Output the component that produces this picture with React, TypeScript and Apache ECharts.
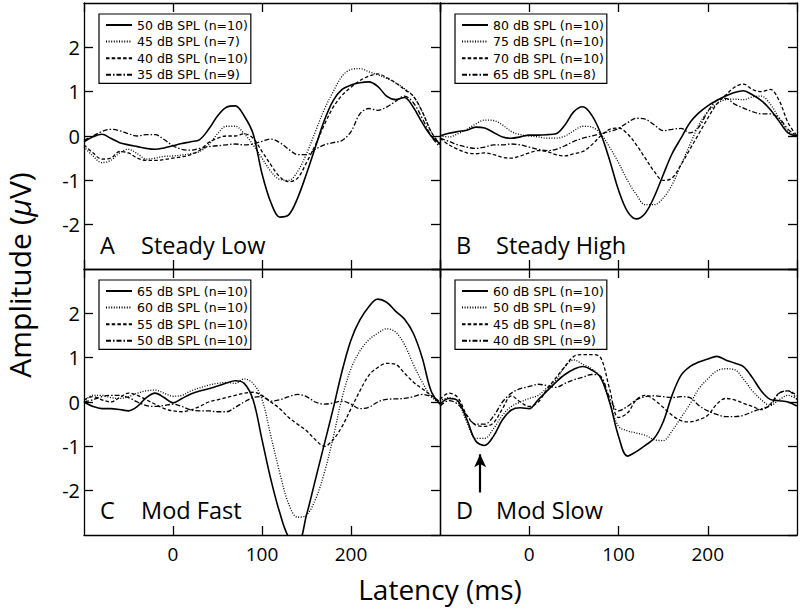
import React, { useEffect, useRef } from 'react';
import * as echarts from 'echarts';

const FONT = '"Open Sans", Lato, "DejaVu Sans", sans-serif';
const LEGEND_FONT = '"DejaVu Sans", "Open Sans", sans-serif';

// Latency sampling (ms)
const latency = [-100, -90, -80, -70, -60, -50, -40, -30, -20, -10, 0, 10, 20, 30, 40, 50, 60, 70, 80, 90, 100,
  110, 120, 130, 140, 150, 160, 170, 180, 190, 200, 210, 220, 230, 240, 250, 260, 270, 280, 290, 300];

// Panel A – Steady Low
const namesA = ['50 dB SPL (n=10)', '45 dB SPL (n=7)', '40 dB SPL (n=10)', '35 dB SPL (n=9)'];
const a50 = [-0.13, -0.02, 0.04, -0.05, -0.15, -0.2, -0.24, -0.28, -0.3, -0.27, -0.22, -0.17, -0.13, -0.08, 0.15, 0.45, 0.65, 0.68, 0.45, 0.05, -0.85,
  -1.5, -1.83, -1.78, -1.4, -0.85, -0.25, 0.35, 0.8, 1.05, 1.15, 1.2, 1.22, 1.12, 0.9, 0.82, 0.87, 0.65, 0.3, 0.0, -0.17];
const a45 = [-0.24, -0.45, -0.6, -0.55, -0.38, -0.3, -0.4, -0.52, -0.5, -0.46, -0.45, -0.43, -0.4, -0.35, -0.2, 0.05, 0.22, 0.22, 0.05, -0.2, -0.5,
  -0.8, -0.98, -1.0, -0.8, -0.4, 0.1, 0.6, 1.0, 1.35, 1.5, 1.52, 1.45, 1.38, 1.3, 1.2, 1.07, 0.9, 0.55, 0.1, -0.18];
const a40 = [-0.2, -0.38, -0.52, -0.5, -0.35, -0.38, -0.5, -0.55, -0.55, -0.53, -0.5, -0.47, -0.42, -0.32, -0.15, -0.05, 0.0, 0.0, 0.05, -0.05, -0.35,
  -0.65, -0.92, -1.03, -0.95, -0.6, -0.2, 0.25, 0.65, 0.92, 1.1, 1.25, 1.35, 1.4, 1.32, 1.2, 1.05, 0.9, 0.55, 0.1, -0.2];
const a35 = [-0.1, 0.0, 0.1, 0.15, 0.12, 0.05, 0.0, 0.03, 0.03, -0.08, -0.22, -0.3, -0.32, -0.28, -0.24, -0.22, -0.2, -0.18, -0.2, -0.18, -0.12,
  -0.07, -0.15, -0.3, -0.42, -0.42, -0.3, -0.2, -0.15, -0.1, 0.1, 0.5, 0.62, 0.58, 0.65, 0.78, 0.9, 0.75, 0.4, 0.0, -0.25];

// Panel B – Steady High
const namesB = ['80 dB SPL (n=10)', '75 dB SPL (n=10)', '70 dB SPL (n=10)', '65 dB SPL (n=8)'];
const b80 = [0.0, 0.06, 0.1, 0.13, 0.2, 0.18, 0.08, -0.02, -0.05, -0.02, 0.02, 0.02, 0.03, 0.05, 0.25, 0.55, 0.66, 0.47, 0.06, -0.54, -1.22,
  -1.7, -1.87, -1.74, -1.37, -0.88, -0.4, -0.05, 0.3, 0.52, 0.68, 0.8, 0.9, 0.98, 1.02, 0.93, 0.8, 0.6, 0.33, 0.07, 0.0];
const b75 = [0.0, -0.02, 0.05, 0.15, 0.27, 0.36, 0.35, 0.25, 0.1, 0.03, 0.0, -0.02, -0.05, -0.05, 0.0, 0.12, 0.22, 0.2, 0.05, -0.25, -0.6,
  -1.0, -1.32, -1.55, -1.55, -1.4, -1.1, -0.65, -0.2, 0.25, 0.55, 0.72, 0.82, 0.83, 0.82, 0.88, 0.9, 0.72, 0.4, 0.1, 0.0];
const b70 = [-0.05, -0.2, -0.3, -0.38, -0.4, -0.38, -0.42, -0.48, -0.5, -0.45, -0.38, -0.33, -0.35, -0.42, -0.45, -0.4, -0.35, -0.2, 0.0, 0.15, 0.18,
  0.05, -0.2, -0.5, -0.8, -1.0, -0.95, -0.65, -0.3, 0.05, 0.4, 0.72, 0.92, 1.1, 1.17, 1.05, 1.0, 1.05, 0.8, 0.3, 0.0];
const b65 = [-0.05, -0.12, -0.2, -0.25, -0.28, -0.25, -0.2, -0.2, -0.18, -0.2, -0.25, -0.3, -0.33, -0.3, -0.22, -0.12, -0.05, 0.0, 0.05, 0.1, 0.17,
  0.3, 0.4, 0.38, 0.25, 0.12, 0.15, 0.17, 0.07, 0.2, 0.55, 0.8, 0.85, 0.72, 0.63, 0.55, 0.5, 0.5, 0.4, 0.15, 0.0];

// Panel C – Mod Fast
const namesC = ['65 dB SPL (n=10)', '60 dB SPL (n=10)', '55 dB SPL (n=10)', '50 dB SPL (n=10)'];
const c65 = [0.0, -0.1, -0.15, -0.15, -0.17, -0.2, -0.1, 0.1, 0.2, 0.1, -0.02, 0.08, 0.18, 0.25, 0.3, 0.36, 0.43, 0.48, 0.42, 0.05, -0.85,
  -1.75, -2.5, -3.05, -3.2, -2.55, -1.75, -0.95, -0.15, 0.7, 1.4, 1.85, 2.15, 2.32, 2.25, 2.05, 1.87, 1.55, 1.0, 0.25, -0.05];
const c60 = [0.0, 0.15, 0.15, 0.1, 0.08, 0.12, 0.2, 0.25, 0.27, 0.2, 0.13, 0.15, 0.25, 0.32, 0.38, 0.42, 0.44, 0.42, 0.52, 0.42, 0.06,
  -0.77, -1.6, -2.3, -2.6, -2.55, -2.2, -1.6, -0.8, 0.1, 0.75, 1.15, 1.4, 1.55, 1.65, 1.58, 1.3, 0.85, 0.45, 0.12, -0.03];
const c55 = [0.05, 0.12, 0.05, 0.0, 0.1, 0.2, 0.15, 0.05, -0.05, -0.15, -0.2, -0.22, -0.18, -0.1, 0.0, 0.05, 0.1, 0.15, 0.2, 0.22, 0.15,
  0.0, -0.15, -0.35, -0.5, -0.65, -0.85, -1.0, -0.85, -0.55, -0.15, 0.25, 0.6, 0.78, 0.87, 0.85, 0.65, 0.45, 0.3, 0.15, 0.0];
const c50 = [0.0, 0.05, 0.12, 0.15, 0.15, 0.1, 0.0, -0.08, -0.1, -0.08, -0.05, -0.1, -0.18, -0.2, -0.2, -0.22, -0.22, -0.12, 0.0, 0.1, 0.12,
  0.02, 0.05, 0.12, 0.17, 0.12, 0.0, -0.05, -0.02, 0.02, -0.05, -0.15, -0.12, 0.0, 0.06, 0.07, 0.08, 0.12, 0.17, 0.12, 0.0];

// Panel D – Mod Slow
const namesD = ['60 dB SPL (n=10)', '50 dB SPL (n=9)', '45 dB SPL (n=8)', '40 dB SPL (n=9)'];
const d60 = [-0.05, 0.08, 0.03, -0.39, -0.88, -0.98, -0.77, -0.4, -0.18, -0.13, -0.15, 0.05, 0.25, 0.45, 0.62, 0.74, 0.8, 0.72, 0.55, 0.0, -0.77,
  -1.22, -1.12, -0.98, -0.82, -0.45, 0.15, 0.6, 0.8, 0.9, 0.97, 1.03, 0.95, 0.88, 0.8, 0.55, 0.25, 0.06, 0.03, 0.0, -0.09];
const d50 = [0.02, 0.1, 0.0, -0.45, -0.82, -0.82, -0.6, -0.3, -0.1, 0.0, 0.08, 0.15, 0.32, 0.5, 0.8, 0.95, 0.85, 0.75, 0.55, 0.0, -0.55,
  -0.65, -0.7, -0.75, -0.85, -0.87, -0.65, -0.35, -0.05, 0.3, 0.52, 0.7, 0.75, 0.73, 0.52, 0.25, 0.05, -0.08, 0.05, 0.15, 0.06];
const d45 = [0.06, 0.2, 0.1, -0.3, -0.52, -0.55, -0.47, -0.15, 0.14, 0.0, -0.1, 0.0, 0.29, 0.55, 0.8, 1.03, 1.07, 1.07, 1.0, 0.3, -0.35,
  -0.25, 0.05, 0.15, 0.05, -0.12, -0.3, -0.42, -0.45, -0.4, -0.3, -0.05, 0.08, 0.05, -0.03, -0.1, -0.17, -0.05, 0.2, 0.25, 0.14];
const d40 = [-0.09, 0.03, -0.05, -0.3, -0.5, -0.5, -0.32, 0.0, 0.2, 0.3, 0.35, 0.4, 0.37, 0.33, 0.42, 0.5, 0.56, 0.62, 0.58, 0.1, -0.2,
  -0.1, 0.05, 0.12, 0.14, 0.12, 0.1, 0.12, 0.1, -0.08, -0.2, -0.28, -0.33, -0.33, -0.3, -0.22, -0.15, -0.08, 0.2, 0.25, 0.06];

const panelLetters = ['A', 'B', 'C', 'D'];
const panelConditions = ['Steady Low', 'Steady High', 'Mod Fast', 'Mod Slow'];
const yTicks = [-2, -1, 0, 1, 2];
const xTicks = [0, 100, 200];

// arrow in panel D (latency, amplitude tip, amplitude tail)
const arrowLatency = -55;
const arrowTip = -1.18;
const arrowTail = -2.04;

const lineStyles = [
  { type: 'solid' as any, width: 1.6 },
  { type: [1, 1.6] as any, width: 1.3 },
  { type: [3.5, 2.2] as any, width: 1.3 },
  { type: [5, 2, 1.5, 2] as any, width: 1.3 },
];

export default function App() {
  const ref = useRef<HTMLDivElement>(null);
  useEffect(() => {
    if (!ref.current) return;
    const chart = echarts.init(ref.current, undefined, { renderer: 'svg' });
    const panels = [
      { names: namesA, data: [a50, a45, a40, a35] },
      { names: namesB, data: [b80, b75, b70, b65] },
      { names: namesC, data: [c65, c60, c55, c50] },
      { names: namesD, data: [d60, d50, d45, d40] },
    ];
    const grids = [
      { left: 84, top: 3, width: 356, height: 266 },
      { left: 440, top: 3, width: 357, height: 266 },
      { left: 84, top: 269, width: 356, height: 266 },
      { left: 440, top: 269, width: 357, height: 266 },
    ];
    const axisLine = { show: true, onZero: false, lineStyle: { color: '#000', width: 1.3 } };
    const tick = (show: boolean) => ({ show, inside: true, length: 9, lineStyle: { color: '#000', width: 1.3 } });
    const xAxis: any[] = [];
    const yAxis: any[] = [];
    const series: any[] = [];
    const legend: any[] = [];
    const graphic: any[] = [];
    panels.forEach((p, i) => {
      const isLeft = i % 2 === 0;
      const isBottom = i >= 2;
      xAxis.push({
        type: 'value', gridIndex: i, min: -100, max: 300, interval: 100, position: 'bottom',
        axisLine, axisTick: tick(true), splitLine: { show: false },
        axisLabel: {
          show: isBottom, showMinLabel: false, showMaxLabel: false, margin: 9,
          fontSize: 19, fontFamily: FONT, color: '#000',
          formatter: (v: number) => (xTicks.includes(v) ? String(v) : ''),
        },
      });
      xAxis.push({
        type: 'value', gridIndex: i, min: -100, max: 300, interval: 100, position: 'top',
        axisLine, axisTick: tick(true), splitLine: { show: false }, axisLabel: { show: false },
      });
      yAxis.push({
        type: 'value', gridIndex: i, min: -3, max: 3, interval: 1, position: 'left',
        axisLine, axisTick: tick(isLeft), splitLine: { show: false },
        axisLabel: {
          show: isLeft, showMinLabel: false, showMaxLabel: false, margin: 4,
          fontSize: 20, fontFamily: FONT, color: '#000',
          formatter: (v: number) => (yTicks.includes(v) ? String(v) : ''),
        },
      });
      yAxis.push({
        type: 'value', gridIndex: i, min: -3, max: 3, interval: 1, position: 'right',
        axisLine, axisTick: tick(true), splitLine: { show: false }, axisLabel: { show: false },
      });
      const prefix = panelLetters[i] + '|';
      p.names.forEach((name, k) => {
        const s: any = {
          type: 'line', name: prefix + name, xAxisIndex: 2 * i, yAxisIndex: 2 * i,
          data: latency.map((x, j) => [x, p.data[k][j]]),
          smooth: 0.35, showSymbol: false, symbol: 'none', clip: true,
          lineStyle: { color: '#000', ...lineStyles[k] },
          itemStyle: { color: '#000' },
          z: 10 - k,
        };
        if (i === 3 && k === 0) {
          s.markLine = {
            silent: true, symbol: ['arrow', 'none'], symbolSize: [9, 13],
            label: { show: false },
            lineStyle: { color: '#000', width: 2.2, type: 'solid' },
            data: [[{ coord: [arrowLatency, arrowTip] }, { coord: [arrowLatency, arrowTail] }]],
          };
        }
        series.push(s);
      });
      const g = grids[i];
      legend.push({
        data: p.names.map((n) => prefix + n),
        formatter: (n: string) => n.split('|')[1],
        orient: 'vertical', left: g.left + 15, top: g.top + 11,
        itemWidth: 26, itemHeight: 12, itemGap: 3.6,
        padding: [4.5, 3, 2, 6],
        itemStyle: { opacity: 0 },
        borderColor: '#000', borderWidth: 1.2, selectedMode: false,
        textStyle: { fontSize: 12.5, fontFamily: LEGEND_FONT, color: '#000', lineHeight: 12 },
      });
      const ty = g.top + (i < 2 ? 242 : 241);
      graphic.push({
        type: 'text', x: g.left + 16, y: ty,
        style: { text: panelLetters[i], fontSize: 23.5, fontFamily: FONT, fill: '#000', align: 'left', verticalAlign: 'middle' },
      });
      graphic.push({
        type: 'text', x: g.left + (isLeft ? 57 : 56), y: ty,
        style: { text: panelConditions[i], fontSize: 23.5, fontFamily: FONT, fill: '#000', align: 'left', verticalAlign: 'middle' },
      });
    });
    graphic.push({
      type: 'text', x: 440, y: 589,
      style: { text: 'Latency (ms)', fontSize: 28, fontFamily: FONT, fill: '#000', align: 'center', verticalAlign: 'middle' },
    });
    graphic.push({
      type: 'text', x: 19, y: 275, rotation: Math.PI / 2,
      style: {
        text: '{a|Amplitude (}{b|μ}{a|V)}', align: 'center', verticalAlign: 'middle',
        rich: {
          a: { fontSize: 30, fontFamily: FONT, fill: '#000', color: '#000' },
          b: { fontSize: 30, fontFamily: FONT, fontStyle: 'italic', fill: '#000', color: '#000' },
        },
      },
    });
    chart.setOption({
      animation: false,
      backgroundColor: '#fff',
      grid: grids,
      xAxis, yAxis, series, legend, graphic,
    });
    return () => chart.dispose();
  }, []);
  return <div ref={ref} style={{ position: 'fixed', left: 0, top: 0, width: 800, height: 609 }} />;
}
